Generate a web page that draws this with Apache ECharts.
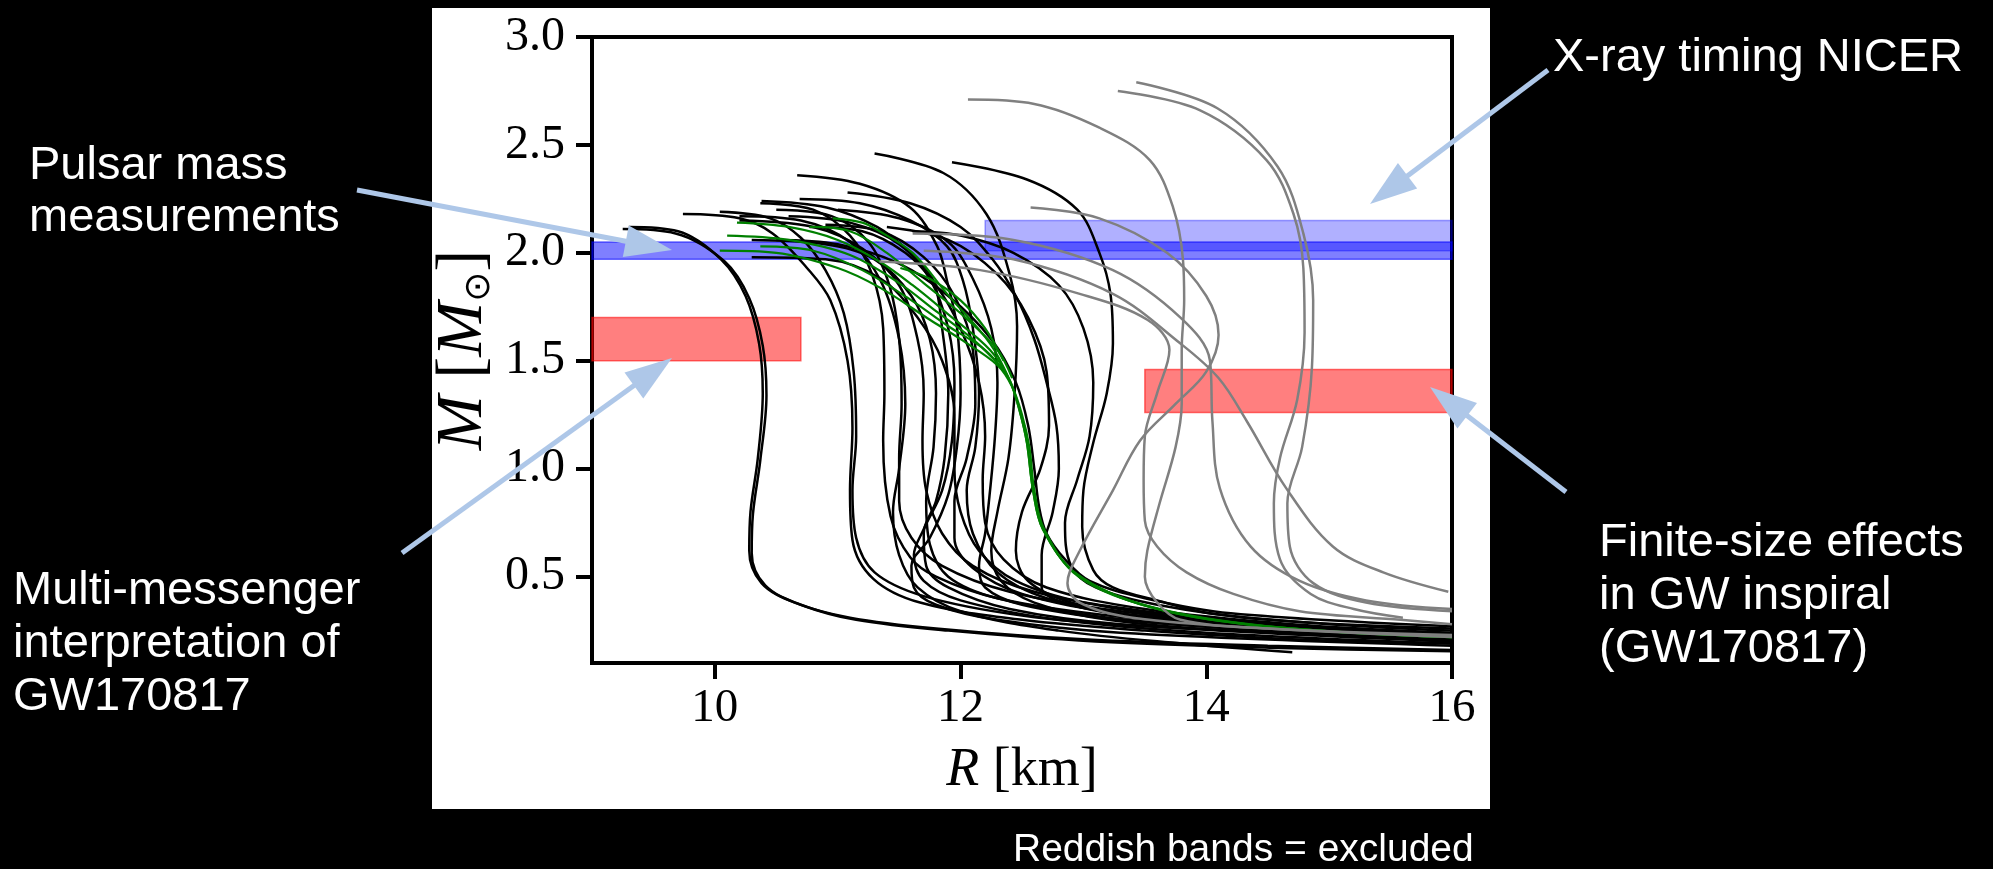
<!DOCTYPE html>
<html>
<head>
<meta charset="utf-8">
<title>M-R curves</title>
<script src="https://cdn.jsdelivr.net/npm/echarts@6.0.0/dist/echarts.min.js"></script>
<style>
  html, body { margin: 0; padding: 0; background: #000; }
  #chart { width: 1993px; height: 869px; }
</style>
</head>
<body>
<div id="chart"></div>
<script>
// axis ticks
const xTicks = [10, 12, 14, 16]
const yTicks = [0.5, 1.0, 1.5, 2.0, 2.5, 3.0]

// bands, [R, M] corners
const pulsarBand = [[9, 1.97], [16, 2.05]]
const nicerBand = [[12.2, 2.01], [16, 2.15]]
const gwLeftBand = [[9, 1.5], [10.7, 1.7]]
const gwRightBand = [[13.5, 1.26], [16, 1.46]]

// black curves, [R km, M sun]
const k01 = [[9.3, 2.12], [9.7, 2.1], [10.05, 1.97], [10.25, 1.8], [10.36, 1.58], [10.39, 1.35], [10.35, 1.05], [10.29, 0.8], [10.28, 0.62], [10.38, 0.47], [10.65, 0.38], [11.1, 0.31], [11.8, 0.26], [13.0, 0.21], [14.5, 0.18], [16, 0.16]]
const k02 = [[9.25, 2.11], [9.68, 2.09], [10.08, 1.96], [10.28, 1.79], [10.39, 1.57], [10.42, 1.34], [10.37, 1.04], [10.31, 0.79], [10.3, 0.61], [10.41, 0.46], [10.7, 0.37], [11.15, 0.3], [11.9, 0.25], [13.1, 0.2], [14.6, 0.17], [16, 0.155]]
const k03 = [[11.93, 2.42], [12.54, 2.34], [12.95, 2.2], [13.13, 2.0], [13.22, 1.81], [13.24, 1.58], [13.19, 1.35], [13.08, 1.12], [13.0, 0.9], [12.99, 0.73], [13.08, 0.53], [13.24, 0.45], [13.6, 0.39], [14.03, 0.33], [15.0, 0.28], [16, 0.25]]
const k04 = [[11.3, 2.46], [11.86, 2.37], [12.21, 2.18], [12.4, 1.9], [12.46, 1.66], [12.44, 1.35], [12.39, 1.05], [12.3, 0.8], [12.25, 0.62], [12.33, 0.48], [12.6, 0.38], [13.2, 0.3], [14.2, 0.25], [16, 0.21]]
const k05 = [[10.67, 2.36], [11.18, 2.32], [11.59, 2.21], [11.81, 2.03], [11.89, 1.87], [11.97, 1.66], [12.0, 1.35], [11.97, 1.1], [11.9, 0.88], [11.75, 0.68], [11.6, 0.55], [11.62, 0.45], [11.8, 0.37], [12.3, 0.3], [13.3, 0.24], [16, 0.18]]
const k06 = [[11.08, 2.28], [11.59, 2.23], [12.0, 2.12], [12.26, 1.97], [12.45, 1.8], [12.6, 1.6], [12.7, 1.4], [12.78, 1.2], [12.8, 1.0], [12.75, 0.8], [12.66, 0.6], [12.66, 0.45], [12.9, 0.37], [13.5, 0.31], [14.5, 0.26], [16, 0.22]]
const k07 = [[10.38, 2.24], [10.91, 2.21], [11.32, 2.12], [11.59, 2.0], [11.78, 1.87], [11.85, 1.65], [11.9, 1.35], [11.87, 1.05], [11.8, 0.85], [11.7, 0.7], [11.72, 0.55], [11.9, 0.45], [12.4, 0.35], [13.3, 0.28], [16, 0.2]]
const k08 = [[10.69, 2.25], [11.18, 2.23], [11.59, 2.15], [11.89, 2.03], [12.02, 1.87], [12.1, 1.65], [12.15, 1.35], [12.12, 1.1], [12.05, 0.9], [12.1, 0.7], [12.3, 0.52], [12.7, 0.4], [13.4, 0.32], [14.5, 0.26], [16, 0.22]]
const k09 = [[11.61, 2.1], [12.0, 2.08], [12.43, 2.0], [12.8, 1.85], [13.0, 1.65], [13.08, 1.4], [13.05, 1.15], [12.95, 0.95], [12.85, 0.75], [12.9, 0.55], [13.1, 0.45], [13.6, 0.37], [14.5, 0.3], [16, 0.26]]
const k10 = [[9.74, 2.18], [10.2, 2.16], [10.47, 2.09], [10.75, 1.93], [10.94, 1.78], [11.08, 1.5], [11.12, 1.19], [11.1, 0.9], [11.12, 0.67], [11.29, 0.49], [11.67, 0.38], [12.5, 0.3], [13.5, 0.25], [14.7, 0.21], [16, 0.19]]
const k11 = [[10.04, 2.19], [10.45, 2.16], [10.7, 2.07], [10.9, 1.92], [11.05, 1.72], [11.13, 1.45], [11.15, 1.15], [11.12, 0.9], [11.15, 0.68], [11.3, 0.52], [11.7, 0.41], [12.5, 0.32], [13.5, 0.27], [16, 0.21]]
const k12 = [[10.37, 2.23], [10.8, 2.2], [11.1, 2.08], [11.28, 1.9], [11.37, 1.65], [11.38, 1.35], [11.37, 1.13], [11.43, 0.78], [11.59, 0.59], [11.8, 0.5], [12.3, 0.4], [13.2, 0.32], [14.5, 0.26], [16, 0.22]]
const k13 = [[10.3, 2.06], [10.9, 2.04], [11.3, 1.97], [11.6, 1.8], [11.75, 1.6], [11.8, 1.35], [11.78, 1.1], [11.72, 0.85], [11.75, 0.65], [11.9, 0.5], [12.3, 0.4], [13.2, 0.31], [14.5, 0.25], [16, 0.2]]
const k14 = [[10.3, 1.98], [10.9, 1.97], [11.35, 1.88], [11.65, 1.7], [11.85, 1.5], [11.95, 1.25], [11.95, 1.0], [12.0, 0.8], [12.15, 0.62], [12.45, 0.48], [13.0, 0.38], [14.0, 0.3], [16, 0.23]]
const k15 = [[10.77, 2.12], [11.2, 2.1], [11.55, 2.0], [11.8, 1.85], [12.0, 1.65], [12.15, 1.4], [12.2, 1.15], [12.18, 0.95], [12.2, 0.75], [12.35, 0.58], [12.7, 0.45], [13.5, 0.35], [14.7, 0.28], [16, 0.24]]
const k16 = [[10.2, 2.15], [10.8, 2.12], [11.2, 2.02], [11.5, 1.85], [11.65, 1.6], [11.7, 1.35], [11.69, 1.13], [11.72, 0.9], [11.85, 0.7], [12.1, 0.55], [12.6, 0.43], [13.5, 0.34], [14.8, 0.27], [16, 0.23]]
const k17 = [[11.0, 2.2], [11.5, 2.16], [11.9, 2.05], [12.1, 1.88], [12.25, 1.65], [12.3, 1.4], [12.28, 1.15], [12.24, 0.9], [12.2, 0.7], [12.15, 0.55], [12.2, 0.45], [12.5, 0.37], [13.3, 0.3], [14.5, 0.25], [16, 0.21]]
const k18 = [[10.5, 2.06], [11.0, 2.04], [11.5, 1.95], [11.9, 1.8], [12.25, 1.6], [12.45, 1.4], [12.55, 1.2], [12.6, 1.0], [12.64, 0.82], [12.7, 0.7], [12.85, 0.58], [13.05, 0.48], [13.5, 0.4], [14.2, 0.33], [16, 0.27]]
const k19 = [[10.5, 2.2], [10.95, 2.17], [11.25, 2.05], [11.42, 1.85], [11.5, 1.6], [11.52, 1.3], [11.5, 1.05], [11.5, 0.85], [11.6, 0.68], [11.85, 0.55], [12.4, 0.43], [13.3, 0.34], [14.5, 0.27], [16, 0.23]]
const k20 = [[10.9, 2.13], [11.35, 2.1], [11.7, 1.98], [11.95, 1.8], [12.1, 1.55], [12.12, 1.3], [12.05, 1.05], [11.95, 0.85], [11.95, 0.68], [12.1, 0.54], [12.5, 0.42], [13.3, 0.33], [14.5, 0.27], [16, 0.23]]
const k21 = [[11.4, 2.12], [11.9, 2.06], [12.3, 1.9], [12.55, 1.7], [12.7, 1.45], [12.72, 1.2], [12.65, 1.0], [12.5, 0.8], [12.45, 0.62], [12.55, 0.48], [12.9, 0.38], [13.6, 0.3], [14.7, 0.25], [16, 0.2]]
const k22 = [[10.6, 2.17], [11.1, 2.14], [11.5, 2.04], [11.75, 1.88], [11.9, 1.65], [11.95, 1.4], [11.93, 1.13], [11.85, 0.9], [11.7, 0.72], [11.62, 0.6], [11.7, 0.48], [12.0, 0.39], [12.8, 0.3], [14.0, 0.24], [16, 0.19]]
const k23 = [[10.2, 2.17], [10.7, 2.15], [11.1, 2.05], [11.35, 1.87], [11.5, 1.6], [11.55, 1.3], [11.5, 1.0], [11.45, 0.8], [11.5, 0.6], [11.65, 0.45], [12.0, 0.34], [12.8, 0.25], [13.8, 0.19], [14.7, 0.15]]

// green curves
const g01 = [[10.18, 2.14], [10.6, 2.12], [11.0, 2.06], [11.34, 1.96], [11.61, 1.85], [11.89, 1.72], [12.24, 1.55], [12.4, 1.41], [12.48, 1.27], [12.54, 1.12], [12.59, 0.9], [12.67, 0.72], [12.95, 0.51], [13.54, 0.36], [14.49, 0.27], [16, 0.22]]
const g02 = [[10.04, 2.01], [10.5, 2.0], [11.0, 1.93], [11.34, 1.84], [11.75, 1.69], [12.0, 1.6], [12.3, 1.48], [12.42, 1.38], [12.5, 1.25], [12.56, 1.1], [12.6, 0.9], [12.68, 0.72], [12.96, 0.5], [13.55, 0.36], [14.5, 0.27], [16, 0.22]]
const g03 = [[10.96, 2.16], [11.2, 2.14], [11.34, 2.1], [11.61, 2.0], [11.89, 1.81], [12.24, 1.58], [12.4, 1.41], [12.48, 1.27], [12.54, 1.12], [12.59, 0.9], [12.67, 0.72], [12.95, 0.51], [13.54, 0.36], [14.49, 0.27], [16, 0.22]]
const g04 = [[10.77, 2.12], [11.1, 2.1], [11.4, 2.0], [11.7, 1.86], [12.0, 1.72], [12.3, 1.55], [12.42, 1.42]]
const g05 = [[10.37, 2.03], [10.8, 2.01], [11.2, 1.92], [11.6, 1.78], [11.9, 1.66], [12.2, 1.55], [12.38, 1.43]]
const g06 = [[11.51, 1.93], [11.75, 1.88], [12.0, 1.78], [12.2, 1.65], [12.35, 1.5]]
const g07 = [[10.1, 2.08], [10.6, 2.06], [11.1, 1.99], [11.5, 1.86], [11.8, 1.73], [12.1, 1.6], [12.35, 1.46]]

// gray curves
const h01 = [[12.06, 2.71], [12.6, 2.69], [13.13, 2.58], [13.54, 2.43], [13.73, 2.21], [13.81, 1.97], [13.82, 1.78], [13.8, 1.55], [13.8, 1.3], [13.75, 1.1], [13.62, 0.84], [13.52, 0.62], [13.5, 0.5], [13.6, 0.38], [13.79, 0.3], [14.5, 0.26], [16, 0.23]]
const h02 = [[13.28, 2.75], [13.95, 2.66], [14.49, 2.43], [14.71, 2.18], [14.79, 1.93], [14.8, 1.63], [14.74, 1.32], [14.6, 1.05], [14.55, 0.84], [14.6, 0.58], [14.85, 0.42], [15.2, 0.35], [15.6, 0.31]]
const h03 = [[13.43, 2.79], [14.09, 2.67], [14.58, 2.4], [14.79, 2.09], [14.87, 1.78], [14.86, 1.47], [14.78, 1.1], [14.66, 0.84], [14.68, 0.64], [14.87, 0.47], [15.3, 0.38], [16, 0.34]]
const h04 = [[12.57, 2.21], [13.13, 2.16], [13.68, 2.0], [14.0, 1.8], [14.1, 1.62], [14.0, 1.45], [13.75, 1.3], [13.46, 1.13], [13.24, 0.9], [12.97, 0.62], [12.87, 0.47], [12.97, 0.38], [13.4, 0.31], [14.5, 0.26], [16, 0.22]]
const h05 = [[11.61, 2.09], [12.43, 2.06], [13.24, 1.92], [13.79, 1.7], [14.03, 1.5], [14.05, 1.22], [14.11, 0.91], [14.36, 0.64], [14.76, 0.48], [15.3, 0.39], [16, 0.35]]
const h06 = [[11.7, 2.01], [12.43, 1.97], [13.24, 1.81], [13.79, 1.58], [14.1, 1.42], [14.33, 1.22], [14.65, 0.91], [15.03, 0.64], [15.44, 0.52], [15.97, 0.43]]
const h07 = [[11.34, 1.96], [12.16, 1.92], [12.97, 1.81], [13.52, 1.69], [13.7, 1.55], [13.6, 1.35], [13.5, 1.15], [13.49, 0.95], [13.5, 0.76], [13.6, 0.64], [13.84, 0.52], [14.22, 0.42], [14.76, 0.34], [15.58, 0.3], [16, 0.28]]

const blackCurves = [k01, k02, k03, k04, k05, k06, k07, k08, k09, k10, k11, k12, k13, k14, k15, k16, k17, k18, k19, k20, k21, k22, k23]
const greenCurves = [g01, g02, g03, g04, g05, g06, g07]
const grayCurves = [h01, h02, h03, h04, h05, h06, h07]

function curveSeries (list, color, width, z) {
  return list.map(pts => ({
    type: 'line',
    data: pts,
    smooth: 0.35,
    showSymbol: false,
    silent: true,
    z: z,
    lineStyle: { color: color, width: width }
  }))
}

function band (corners, fill, edge) {
  return [
    { coord: corners[0], itemStyle: { color: fill, borderColor: edge, borderWidth: 1.5 } },
    { coord: corners[1] }
  ]
}

// annotation arrow: shaft plus filled head
function arrow (x1, y1, x2, y2) {
  const color = '#aec7e8'
  const len = Math.hypot(x2 - x1, y2 - y1)
  const ux = (x2 - x1) / len
  const uy = (y2 - y1) / len
  const headLen = 47
  const half = 16
  const bx = x2 - ux * headLen
  const by = y2 - uy * headLen
  return [
    { type: 'line', shape: { x1: x1, y1: y1, x2: bx + ux * 4, y2: by + uy * 4 }, style: { stroke: color, lineWidth: 5 }, z: 50 },
    { type: 'polygon', shape: { points: [[x2, y2], [bx - uy * half, by + ux * half], [bx + uy * half, by - ux * half]] }, style: { fill: color }, z: 50 }
  ]
}

function label (x, y, text, size, lh) {
  return {
    type: 'text',
    x: x,
    y: y,
    z: 50,
    style: { text: text, fill: '#fff', font: size + 'px "Liberation Sans", Arial, sans-serif', lineHeight: lh, verticalAlign: 'top', align: 'left' }
  }
}

const serif = '"Liberation Serif", "Times New Roman", serif'

const option = {
  backgroundColor: '#000',
  animation: false,
  grid: {
    left: 592,
    top: 37,
    width: 860,
    height: 626,
    show: true,
    backgroundColor: '#fff',
    borderColor: '#000',
    borderWidth: 4,
    containLabel: false
  },
  xAxis: {
    type: 'value',
    min: 9,
    max: 16,
    name: '{i|R} [km]',
    nameLocation: 'middle',
    nameGap: 78,
    nameTextStyle: {
      color: '#000',
      fontFamily: serif,
      fontSize: 54,
      lineHeight: 60,
      rich: { i: { fontStyle: 'italic', fontFamily: serif, fontSize: 54, lineHeight: 60, color: '#000' } }
    },
    axisLine: { show: true, onZero: false, lineStyle: { color: '#000', width: 4 } },
    axisTick: { show: true, inside: false, length: 16, lineStyle: { color: '#000', width: 4 }, customValues: xTicks },
    axisLabel: { show: true, margin: 22, color: '#000', fontFamily: serif, fontSize: 47, customValues: xTicks },
    splitLine: { show: false }
  },
  yAxis: {
    type: 'value',
    min: 0.1,
    max: 3.0,
    name: '{i|M} [{i|M}{s|⊙}]',
    nameLocation: 'middle',
    nameGap: 94,
    nameTextStyle: {
      color: '#000',
      fontFamily: serif,
      fontSize: 66,
      lineHeight: 68,
      rich: {
        i: { fontStyle: 'italic', fontFamily: serif, fontSize: 66, lineHeight: 68, color: '#000' },
        s: { fontFamily: '"DejaVu Sans", sans-serif', fontSize: 36, lineHeight: 38, verticalAlign: 'bottom', color: '#000' }
      }
    },
    axisLine: { show: true, onZero: false, lineStyle: { color: '#000', width: 4 } },
    axisTick: { show: true, inside: false, length: 16, lineStyle: { color: '#000', width: 4 }, customValues: yTicks },
    axisLabel: { show: true, margin: 27, color: '#000', fontFamily: serif, fontSize: 48, customValues: yTicks, formatter: v => v.toFixed(1) },
    splitLine: { show: false }
  },
  graphic: [
    { type: 'rect', shape: { x: 432, y: 8, width: 1058, height: 801 }, style: { fill: '#fff' }, z: -10, silent: true },
    ...arrow(357, 190, 672, 250),
    ...arrow(402, 553, 672, 358),
    ...arrow(1548, 70, 1370, 204),
    ...arrow(1566, 492, 1430, 387),
    label(29, 140, 'Pulsar mass\nmeasurements', 47, 52),
    label(1553, 32, 'X-ray timing NICER', 47, 52),
    label(13, 565, 'Multi-messenger\ninterpretation of\nGW170817', 47, 53),
    label(1599, 517, 'Finite-size effects\nin GW inspiral\n(GW170817)', 47, 53),
    label(1013, 829, 'Reddish bands = excluded', 39, 42)
  ],
  series: [
    {
      type: 'line',
      data: [],
      silent: true,
      z: 1,
      markArea: {
        silent: true,
        data: [
          band(pulsarBand, 'rgba(0,0,255,0.5)', 'rgba(0,0,255,0.55)'),
          band(nicerBand, 'rgba(0,0,255,0.31)', 'rgba(0,0,255,0.35)'),
          band(gwLeftBand, 'rgba(255,0,0,0.5)', 'rgba(255,0,0,0.55)'),
          band(gwRightBand, 'rgba(255,0,0,0.5)', 'rgba(255,0,0,0.55)')
        ]
      }
    },
    ...curveSeries(blackCurves, '#000', 2.5, 3),
    ...curveSeries(greenCurves, '#008000', 2.2, 4),
    ...curveSeries(grayCurves, '#808080', 2.5, 5)
  ]
}

const chart = echarts.init(document.getElementById('chart'))
chart.setOption(option)
</script>
</body>
</html>
